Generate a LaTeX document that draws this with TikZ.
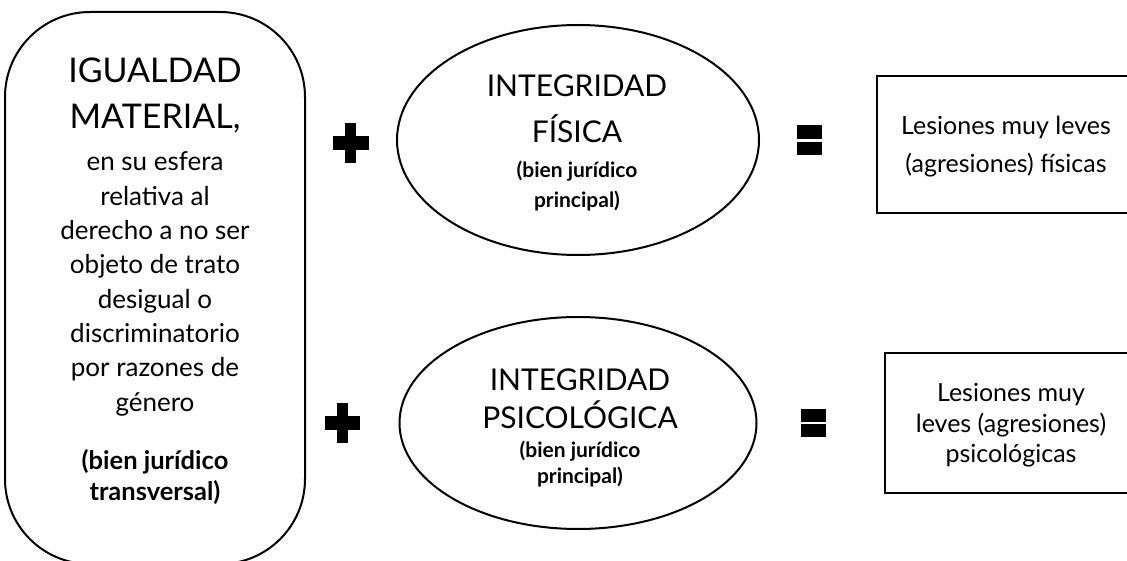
\documentclass[tikz,border=0pt]{standalone}
\usepackage{fontspec}
\setmainfont{Lato}
\usetikzlibrary{shapes.geometric}
\tikzset{
  frame/.style={draw, line width=2pt, inner sep=0pt},
  capsline/.style={anchor=base, inner sep=0pt, font=\fontsize{34}{34}\selectfont},
  ecaps/.style={anchor=base, inner sep=0pt, font=\fontsize{30}{30}\selectfont},
  bodyline/.style={anchor=base, inner sep=0pt, font=\fontsize{26}{26}\selectfont},
  boldline/.style={anchor=base, inner sep=0pt, font=\bfseries\fontsize{25.5}{25.5}\selectfont},
  smallbold/.style={anchor=base, inner sep=0pt, font=\bfseries\fontsize{21}{21}\selectfont},
  resline/.style={anchor=base, inner sep=0pt, font=\fontsize{25}{25}\selectfont},
  sym/.style={fill=black},
}
\begin{document}
\begin{tikzpicture}[x=1pt,y=-1pt]
\useasboundingbox (0,0) rectangle (1127,561);
% left rounded box
\node[frame, rounded corners=85pt, minimum width=300pt, minimum height=552pt] (igual) at (155,288) {};
\node[capsline] (t1) at (155,83) {IGUALDAD};
\node[capsline] (t2) at (155,129) {MATERIAL,};
\node[bodyline] (b1) at (155,171) {en su esfera};
\node[bodyline] (b2) at (155,205.3) {relativa al};
\node[bodyline] (b3) at (155,239.6) {derecho a no ser};
\node[bodyline] (b4) at (155,273.9) {objeto de trato};
\node[bodyline] (b5) at (155,308.2) {desigual o};
\node[bodyline] (b6) at (155,342.5) {discriminatorio};
\node[bodyline] (b7) at (155,376.8) {por razones de};
\node[bodyline] (b8) at (155,411.1) {género};
\node[boldline] (c1) at (155,469) {(bien jurídico};
\node[boldline] (c2) at (155,500) {transversal)};
% plus signs
\fill[sym] (332.5,135.7) rectangle (368.5,149.7);
\fill[sym] (345,122.7) rectangle (356,162.7);
\fill[sym] (325,416.3) rectangle (360,430.3);
\fill[sym] (337,403.3) rectangle (348,443.3);
% ellipses
\node[frame, ellipse, minimum width=362pt, minimum height=230pt] (fis) at (578,140) {};
\node[ecaps] (f1) at (577,97) {INTEGRIDAD};
\node[ecaps] (f2) at (577,143) {FÍSICA};
\node[smallbold] (f3) at (577,178) {(bien jurídico};
\node[smallbold] (f4) at (577,208) {principal)};
\node[frame, ellipse, minimum width=357pt, minimum height=212pt] (psi) at (578,423) {};
\node[ecaps] (p1) at (580,390) {INTEGRIDAD};
\node[ecaps] (p2) at (580,428) {PSICOLÓGICA};
\node[smallbold] (p3) at (580,457) {(bien jurídico};
\node[smallbold] (p4) at (580,483) {principal)};
% equals signs
\fill[sym] (797,125) rectangle (822,139);
\fill[sym] (797,142) rectangle (822,155);
\fill[sym] (801,409) rectangle (826,422);
\fill[sym] (801,424) rectangle (826,437);
% result boxes
\node[frame, minimum width=263pt, minimum height=137pt] (r1) at (1008.5,144.5) {};
\node[resline] (r1a) at (1006,135) {Lesiones muy leves};
\node[resline] (r1b) at (1006,173) {(agresiones) físicas};
\node[frame, minimum width=255pt, minimum height=140pt] (r2) at (1012.5,423) {};
\node[resline] (r2a) at (1011,401) {Lesiones muy};
\node[resline] (r2b) at (1011,432) {leves (agresiones)};
\node[resline] (r2c) at (1011,462) {psicológicas};
\end{tikzpicture}
\end{document}
